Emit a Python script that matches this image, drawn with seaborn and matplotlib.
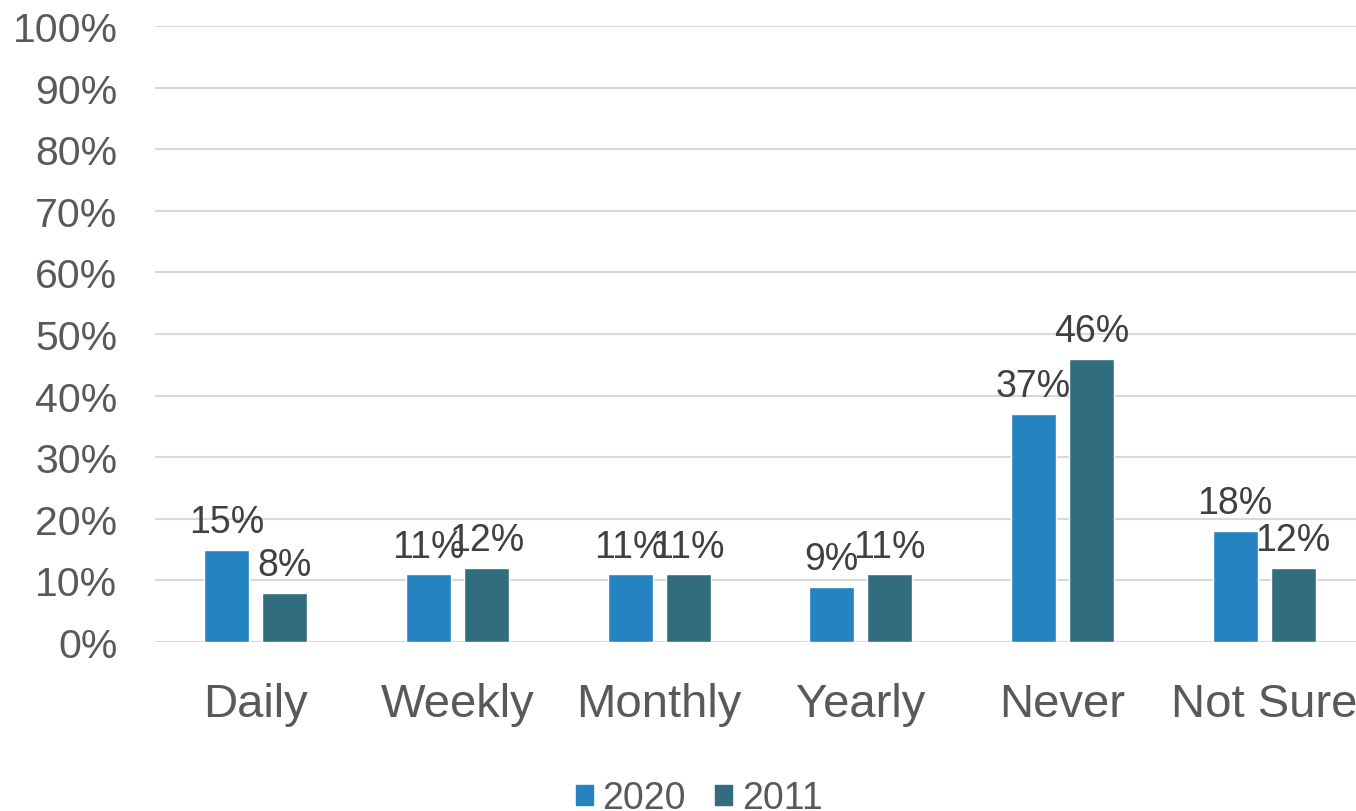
import numpy as np
import pandas as pd
import matplotlib
matplotlib.use("Agg")
import matplotlib.pyplot as plt
import seaborn as sns

categories = ["Daily", "Weekly", "Monthly", "Yearly", "Never", "Not Sure"]
years = ["2020", "2011"]
values_2020 = [15, 11, 11, 9, 37, 18]
values_2011 = [8, 12, 11, 11, 46, 12]
colors = ["#2683C1", "#316C7F"]

df = pd.DataFrame({
    "category": categories * 2,
    "year": [years[0]] * len(categories) + [years[1]] * len(categories),
    "value": values_2020 + values_2011,
})

sns.set_style("white")
plt.rcParams["font.family"] = ["Liberation Sans", "DejaVu Sans"]
text_color = "#595959"

fig = plt.figure(figsize=(13.56, 8.12), dpi=100)
ax = fig.add_axes([0.1143, 0.2081, 0.8923, 0.7586])

sns.barplot(data=df, x="category", y="value", hue="year", order=categories,
            hue_order=years, palette=colors, width=0.575, gap=0.225,
            saturation=1, legend=False, ax=ax)

for cont in ax.containers:
    ax.bar_label(cont, fmt="%.0f%%", padding=7, fontsize=27, color="#404040")

ax.set_ylim(0, 100)
ax.set_yticks(np.arange(0, 101, 10))
ax.set_yticklabels([f"{v}%" for v in range(0, 101, 10)])
ax.set_xlim(-0.5, len(categories) - 0.5)
ax.grid(axis="y", color="#D9D9D9", linewidth=1.5)
ax.set_axisbelow(True)
for s in ax.spines.values():
    s.set_visible(False)
ax.tick_params(axis="y", length=0, pad=27, labelsize=29.5, labelcolor=text_color)
ax.tick_params(axis="x", length=0, pad=29, labelsize=34, labelcolor=text_color)
ax.set_xlabel("")
ax.set_ylabel("")

handles = [plt.Rectangle((0, 0), 1, 1, color=c) for c in colors]
fig.legend(handles, years, loc="center", bbox_to_anchor=(0.5155, 0.016), ncol=2,
           frameon=False, fontsize=27, labelcolor=text_color, handlelength=0.45,
           handleheight=0.45, handletextpad=0.25, columnspacing=0.8)

fig.savefig("out.png", dpi=100)
